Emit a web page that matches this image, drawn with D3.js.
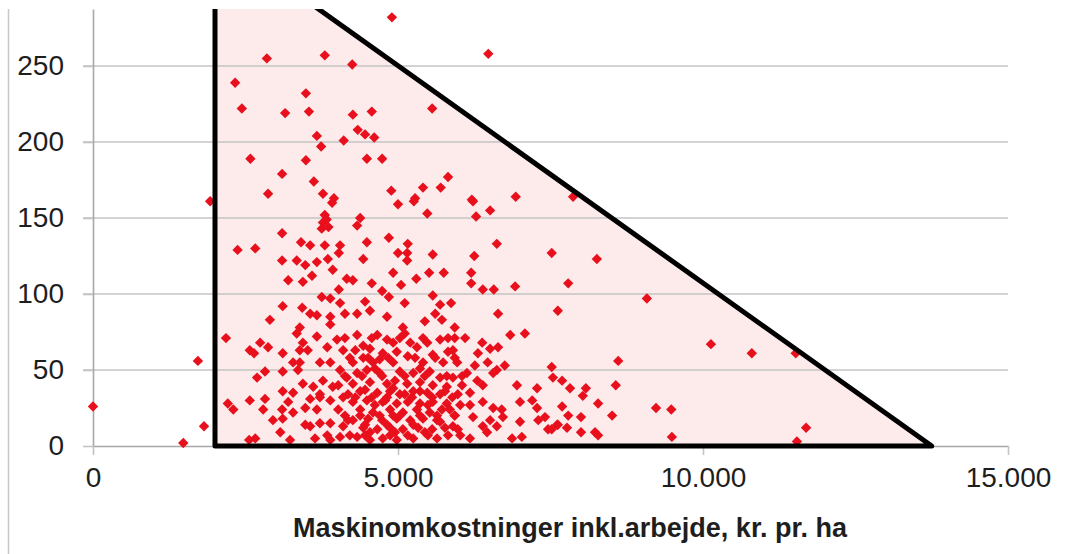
<!DOCTYPE html>
<html>
<head lang="da">
    <meta charset="UTF-8">
    <title>Maskinomkostninger</title>
    <script src="https://d3js.org/d3.v7.min.js"></script>
</head>
<body>
<svg id="chart" width="1067" height="554"></svg>
<style>
    body{
        margin:0;
        background:#fff;
    }
    .tick text{
        font-family:"Liberation Sans", Arial, sans-serif;
        font-size:28px;
        fill:#1e1e1e;
    }
    .grid{
        stroke:#c4c4c4;
        stroke-width:1.6;
    }
    .dot{
        fill:#e8101c;
    }
</style>
<script>

    // tick labels
    const X_TICKS = [0, 5000, 10000, 15000];
    const Y_TICKS = [0, 50, 100, 150, 200, 250];
    const TITLE = 'Maskinomkostninger inkl.arbejde, kr. pr. ha';

    // corners of the shaded triangle (x = kr. pr. ha, y = value)
    const TRIANGLE = [[2000, 0], [13750, 0], [2000, 336]];

    // farms, [kr. pr. ha, value]
    const POINTS_LEFT = [[0,26],[1480,2],[1720,56],[1820,13],[1920,161],[2180,71],[2210,28],[2300,24],
        [2570,30],[2330,239],[2440,222],[2370,129],[2570,63],[2560,4]];

    const POINTS_UPPER = [[4900,282],[6480,258],[2850,255],[3800,257],[4250,251],[3490,232],[3150,219],
        [3540,220],[4260,218],[4570,220],[4340,208],[4460,205],[4610,203],[3670,204],[3740,197],[4110,201],
        [2580,189],[3490,188],[4490,189],[4740,189],[3100,179],[3620,174],[2870,166],[3770,166],[3950,163],
        [4890,168],[5560,222],[5820,177],[5410,170],[5700,170],[5280,163],[6210,162],[6930,164],[7870,164],
        [5000,159],[5260,161],[5480,153],[4380,150],[3920,160],[3800,152],[6230,161],[6510,155],[6280,151]];

    const POINTS_MIDDLE = [[4330,145],[4850,137],[4490,134],[5160,133],[5000,127],[5150,127],[5150,122],
        [5570,126],[4430,123],[4920,114],[5510,114],[5750,114],[4260,109],[5300,110],[4570,107],[5050,106],
        [4740,102],[4850,98],[5570,99],[5110,94],[4460,95],[4540,89],[5690,93],[5610,87],[4820,85],[4330,87],
        [5440,82],[5720,83],[5080,78],
        [3770,147],[3750,143],[3830,149],[3860,144],[3100,140],[2660,130],[3410,134],[3560,132],[3800,132],
        [4050,132],[4030,127],[3100,122],[3340,122],[3480,119],[3670,121],[3850,123],[3930,116],[3590,112],
        [4160,110],[3200,109],[3440,108],[4030,103],[3110,92],[2900,83],[3430,91],[3750,98],[3890,97],
        [3560,87],[3670,86],[4050,94],[4130,87],[3890,85],[3390,78],[3890,80],
        [6620,133],[7520,127],[6250,125],[6200,114],[6200,107],[6390,103],[6570,103],[6920,105],[5870,94],
        [6640,87],[7620,89],[5930,78],[8260,123],[7790,107],[9080,97]];

    const POINTS_LOWER_LEFT = [[2740,68],[2870,65],[2640,61],[3110,61],[3340,74],[3440,68],[3520,63],
        [3280,55],[3390,55],[3670,72],[3840,65],[4000,70],[4100,63],[3720,55],[3890,55],[4050,50],[4160,45],
        [2820,49],[2690,45],[3110,49],[3440,41],[3610,39],[3770,43],[3930,39],[3110,36],[3280,35],[2820,31],
        [3200,29],[3560,31],[3720,32],[3890,30],[4100,32],[2790,24],[3100,24],[3480,25],[3280,22],[3670,24],
        [4020,24],[2950,17],[3110,18],[3560,13],[3720,15],[3890,15],[4100,13],[3070,9],[2660,5],[3640,5],
        [3840,7],[4050,6],
        [3360,50],[3720,34],[3480,14],[3890,4],[3230,4],[4020,40],[3390,63]];

    const POINTS_CORE = [[4330,73],[4660,73],[4920,68],[5110,74],[5310,65],[5480,68],[5570,60],[5740,55],
        [4540,64],[4750,61],[4430,58],[4260,55],[4590,55],[4920,55],[5160,59],[5410,55],[4330,48],[4490,50],
        [4700,48],[5030,49],[5250,48],[5520,49],[5690,45],[4260,41],[4540,42],[4820,41],[4950,43],[5150,41],
        [5360,42],[5570,40],[5800,39],[4380,36],[4660,35],[4870,36],[5030,34],[5250,36],[5480,35],[5690,34],
        [4260,29],[4490,30],[4750,29],[4980,28],[5160,29],[5360,28],[5570,29],[5800,28],[4380,24],[4590,22],
        [4870,24],[5080,22],[5310,24],[5520,22],[5720,24],[4260,17],[4510,18],[4740,17],[4980,18],[5200,17],
        [5410,18],[5640,17],[4430,12],[4660,11],[4870,12],[5080,11],[5330,12],[5560,11],[5770,12],[4330,6],
        [4750,5],[4980,4],[5250,5],[5640,5],[4540,4],
        [4430,66],[4820,70],[5200,68],[5690,70],[4620,51],[4980,62],[5360,51],[5820,62],[4460,37],[4920,38],
        [5360,36],[5770,36],[4620,27],[5110,34],[5490,27],[5850,24],[4460,14],[4820,14],[5250,14],[5690,16],
        [4540,9],[4950,9],[5440,9],[4180,34],[4180,17],[4700,57],[4300,63],[5030,20],[4790,30],
        [4130,71],[4570,71],[5030,71],[5410,71],[5820,71],
        [4210,58],[4510,58],[4840,58],[5280,58],[5610,58],[5930,58],
        [4130,46],[4410,46],[4740,46],[5110,46],[5440,46],[5800,46],[6050,46],
        [4300,32],[4570,32],[4820,32],[5230,32],[5560,32],[5890,32],
        [4130,20],[4380,20],[4700,20],[4920,20],[5360,20],[5640,20],[5930,20],
        [4210,7],[4460,7],[4870,7],[5160,7],[5490,7],[5820,7],[6020,7]];

    const POINTS_LOWER_RIGHT = [[6840,73],[7080,74],[5930,71],[6100,71],[6380,68],[6510,64],[6640,65],
        [6310,61],[5900,63],[5970,55],[6470,55],[6620,50],[6750,53],[6560,48],[7520,52],[7540,45],[5900,45],
        [6130,48],[6300,43],[6050,40],[6390,40],[6950,40],[7280,38],[6180,35],[6390,29],[7000,29],[7200,30],
        [7280,25],[6560,25],[6700,24],[6020,27],[6230,19],[5930,20],[6510,17],[6720,19],[7000,16],[7300,17],
        [7410,19],[5900,13],[6390,13],[6620,13],[7460,11],[6460,9],[6870,5],[7030,6],[7610,14],
        [5980,34],[6180,27],[6260,53],[5980,11],[6180,5],
        [8610,56],[7690,43],[7820,38],[8080,38],[8030,33],[8570,40],[8280,28],[7690,26],[7790,20],[8000,19],
        [8510,20],[9230,25],[9480,24],[7620,14],[7770,12],[8000,9],[8230,9],[8280,7],[9490,6],[7520,11],
        [10130,67],[10800,61],[11520,61],[11690,12],[11540,3]];

    const ALL_POINTS = [].concat(POINTS_LEFT, POINTS_UPPER, POINTS_MIDDLE, POINTS_LOWER_LEFT,
        POINTS_CORE, POINTS_LOWER_RIGHT);

    let svg = d3.select('#chart');
    const plotLeft = 93, plotRight = 1008, plotTop = 9, plotBottom = 446;

    let xscale = d3.scaleLinear().domain([0, 15000]).range([plotLeft, plotRight]);
    let yscale = d3.scaleLinear().domain([0, 287.5]).range([plotBottom, plotTop]);

    // danish number format, 5.000
    let da = d3.formatLocale({decimal: ',', thousands: '.', grouping: [3], currency: ['', ' kr.']});
    let fmt = da.format(',');

    // outer frame line on the far left
    svg.append('line')
        .attr('x1', 8.5).attr('x2', 8.5)
        .attr('y1', plotTop).attr('y2', 554)
        .attr('stroke', '#c8c8c8').attr('stroke-width', 1.5);

    svg.append('clipPath').attr('id', 'plot-clip')
        .append('rect')
        .attr('x', plotLeft).attr('y', plotTop)
        .attr('width', plotRight - plotLeft).attr('height', plotBottom - plotTop + 8);

    svg.append('clipPath').attr('id', 'dot-clip')
        .append('rect')
        .attr('x', plotLeft - 10).attr('y', plotTop)
        .attr('width', plotRight - plotLeft + 20).attr('height', plotBottom - plotTop + 10);

    let tri = d3.line().x(d => xscale(d[0])).y(d => yscale(d[1])).curve(d3.curveLinearClosed);

    //shaded area
    svg.append('path')
        .attr('clip-path', 'url(#plot-clip)')
        .attr('d', tri(TRIANGLE))
        .attr('fill', '#fdeaea');

    //grid lines
    svg.append('g').selectAll('line')
        .data(Y_TICKS.filter(d => d > 0))
        .enter()
        .append('line')
        .attr('class', 'grid')
        .attr('x1', plotLeft - 10).attr('x2', plotRight)
        .attr('y1', d => yscale(d)).attr('y2', d => yscale(d));

    //draw x-axis
    let gx = svg.append('g')
        .attr('transform', `translate(0,${plotBottom})`)
        .call(d3.axisBottom(xscale).tickValues(X_TICKS).tickFormat(fmt).tickSize(9).tickSizeOuter(0).tickPadding(12));

    //draw y-axis
    let gy = svg.append('g')
        .attr('transform', `translate(${plotLeft},0)`)
        .call(d3.axisLeft(yscale).tickValues(Y_TICKS).tickSize(10).tickSizeOuter(0).tickPadding(19));

    [gx, gy].forEach(g => {
        g.select('.domain').attr('stroke', '#a8a8a8').attr('stroke-width', 1.6);
        g.selectAll('.tick line').attr('stroke', '#c4c4c4').attr('stroke-width', 1.6);
    });

    //points
    let diamond = d3.symbol().type(d3.symbolSquare).size(54);
    svg.append('g')
        .attr('clip-path', 'url(#dot-clip)')
        .selectAll('.dot')
        .data(ALL_POINTS)
        .enter()
        .append('path')
        .attr('class', 'dot')
        .attr('d', diamond)
        .attr('transform', d => `translate(${xscale(d[0])},${yscale(d[1])}) rotate(45)`);

    //triangle outline on top
    svg.append('path')
        .attr('clip-path', 'url(#plot-clip)')
        .attr('d', tri(TRIANGLE))
        .attr('fill', 'none')
        .attr('stroke', '#000')
        .attr('stroke-width', 5)
        .attr('stroke-linejoin', 'round');

    //axis title
    svg.append('text')
        .attr('x', 570)
        .attr('y', 537)
        .attr('text-anchor', 'middle')
        .attr('textLength', 554)
        .attr('lengthAdjust', 'spacingAndGlyphs')
        .style('font-family', '"Liberation Sans", Arial, sans-serif')
        .style('font-weight', 'bold')
        .style('font-size', '28px')
        .style('fill', '#1e1e1e')
        .text(TITLE);

</script>
</body>
</html>
